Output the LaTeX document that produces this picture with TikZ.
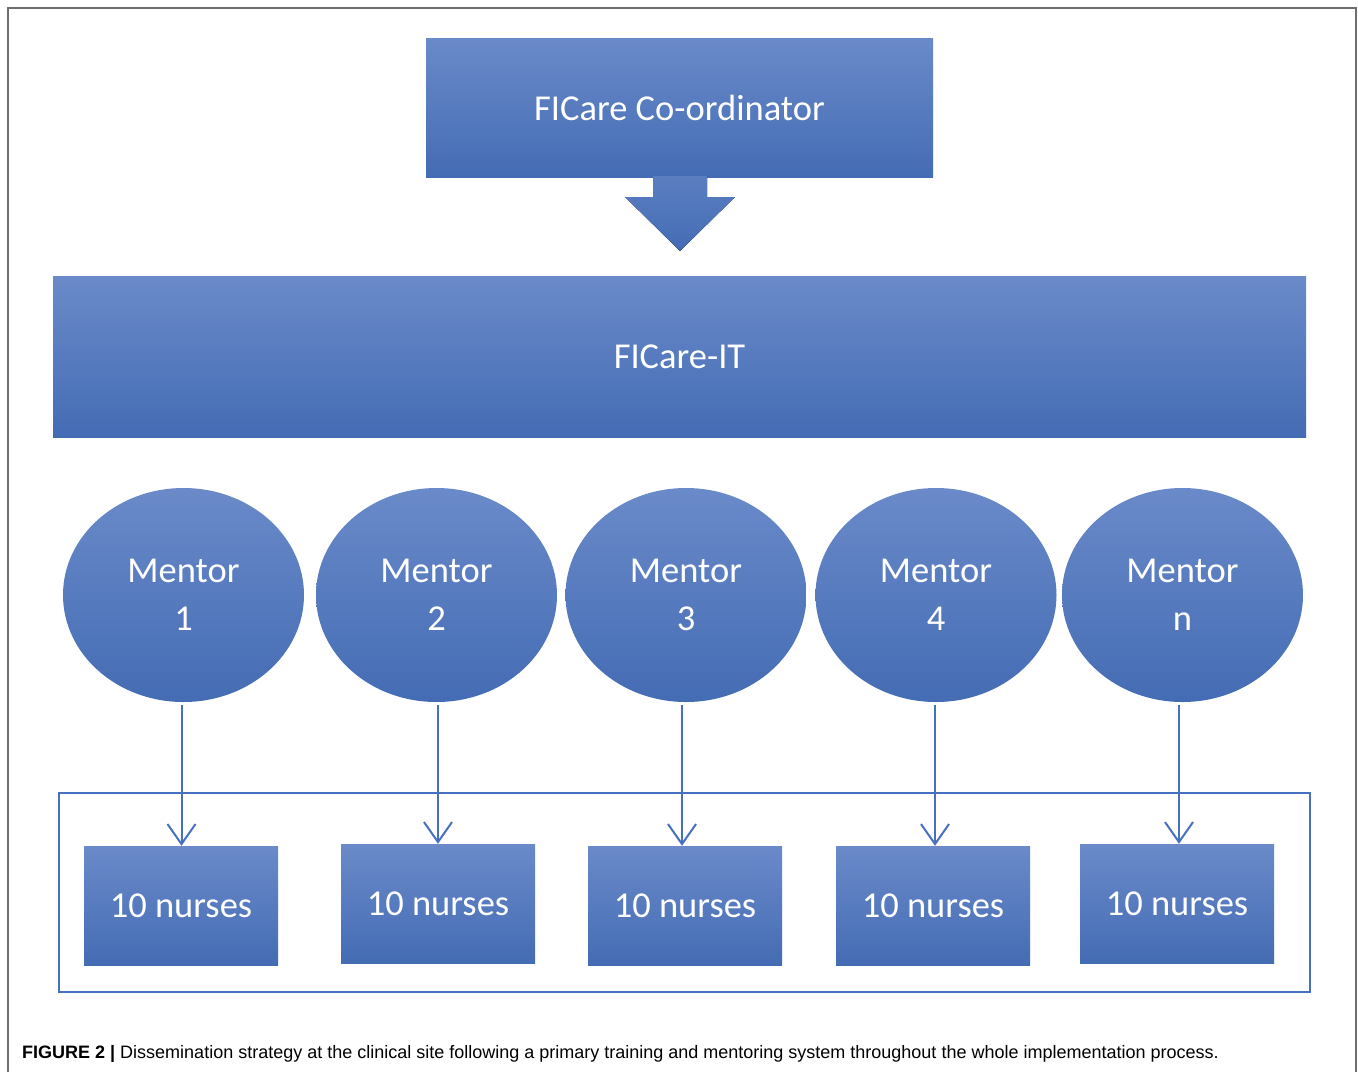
\documentclass[tikz,border=0pt]{standalone}
\usepackage{fontspec}
\setmainfont{Carlito}
\newfontfamily\capfont{Liberation Sans}
\usetikzlibrary{shapes.geometric,arrows.meta}
\definecolor{boxtop}{RGB}{106,138,201}
\definecolor{boxbot}{RGB}{68,108,180}
\definecolor{lineblue}{RGB}{72,112,192}
\definecolor{framegray}{RGB}{110,110,110}
\tikzset{
  bluebox/.style={rectangle, top color=boxtop, bottom color=boxbot, draw=none, inner sep=0pt,
    text=white, font=\fontsize{36.5}{48}\selectfont},
  mentor/.style={ellipse, top color=boxtop, bottom color=boxbot, draw=none, inner sep=0pt,
    minimum width=241pt, minimum height=214pt, text=white, align=center,
    font=\fontsize{36.5}{48}\selectfont},
  nurse/.style={bluebox, minimum width=194pt, minimum height=119pt},
  darr/.style={draw=lineblue, line width=2pt, -{Straight Barb[length=20pt,width=28pt,line width=2pt]}},
}
\begin{document}
\begin{tikzpicture}[x=1pt,y=-1pt]
\useasboundingbox (0,0) rectangle (1358,1072);
\fill[white] (0,0) rectangle (1358,1072);
% outer frame
\draw[framegray, line width=2pt] (8,1072) -- (8,8) -- (1356,8) -- (1356,1072);
% top box
\node[bluebox, minimum width=507pt, minimum height=139pt] (coord) at (679.5,107.5) {FICare Co-ordinator};
% block arrow
\fill[top color=boxtop!60!boxbot, bottom color=boxbot, draw=none]
  (653,176) -- (707,176) -- (707,197) -- (735,197) -- (680,251) -- (625,197) -- (653,197) -- cycle;
% IT box
\node[bluebox, minimum width=1253pt, minimum height=161pt] (it) at (679.5,356.5) {FICare-IT};
% container
\node[draw=lineblue, line width=1.6pt, minimum width=1251pt, minimum height=199pt, inner sep=0pt] (cont) at (684.5,892.5) {};
% mentors
\node[mentor] (m1) at (183.5,595) {Mentor\\1};
\node[mentor] (m2) at (436.5,595) {Mentor\\2};
\node[mentor] (m3) at (686,595) {Mentor\\3};
\node[mentor] (m4) at (936,595) {Mentor\\4};
\node[mentor] (m5) at (1182.5,595) {Mentor\\n};
% nurses
\node[nurse] (n1) at (181,905.5) {10 nurses};
\node[nurse] (n2) at (438,903.5) {10 nurses};
\node[nurse] (n3) at (685,905.5) {10 nurses};
\node[nurse] (n4) at (933,905.5) {10 nurses};
\node[nurse] (n5) at (1177,903.5) {10 nurses};
% arrows
\draw[darr] ([xshift=-2pt,yshift=-3pt]m1.south) -- ([xshift=-2pt]m1.south |- n1.north);
\draw[darr] ([xshift=1.5pt,yshift=-3pt]m2.south) -- ([xshift=1.5pt]m2.south |- n2.north);
\draw[darr] ([xshift=-4pt,yshift=-3pt]m3.south) -- ([xshift=-4pt]m3.south |- n3.north);
\draw[darr] ([xshift=-1pt,yshift=-3pt]m4.south) -- ([xshift=-1pt]m4.south |- n4.north);
\draw[darr] ([xshift=-3.5pt,yshift=-3pt]m5.south) -- ([xshift=-3.5pt]m5.south |- n5.north);
% caption
\node[anchor=base west, inner sep=0pt, font=\capfont\fontsize{18}{22}\selectfont] (cap) at (22,1058)
  {\textbf{FIGURE 2 |} Dissemination strategy at the clinical site following a primary training and mentoring system throughout the whole implementation process.};
\end{tikzpicture}
\end{document}
